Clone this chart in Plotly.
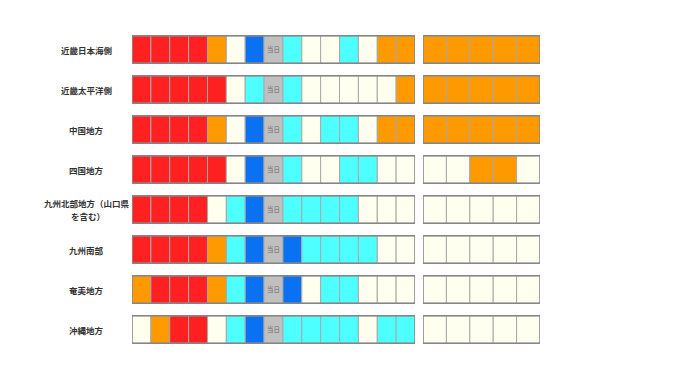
import plotly.graph_objects as go

regions = ["近畿日本海側", "近畿太平洋側", "中国地方", "四国地方",
           "九州北部地方（山口県<br>を含む）", "九州南部", "奄美地方", "沖縄地方"]

# cell codes: R=red, O=orange, W=ivory, C=cyan, B=blue, G=当日 (gray)
block1 = [
    "RRRROWBGCWWCWOO",
    "RRRRRWCGCWWWWWO",
    "RRRROWBGCWCCWOO",
    "RRRRRWBGCWWCCWW",
    "RRRRWCBGCCCCWWW",
    "RRRROCBGBCCCCWW",
    "ORRROCBGBWCCWWW",
    "WORRWCBGCCCCWCC",
]
block2 = [
    "OOOOO",
    "OOOOO",
    "OOOOO",
    "WWOOW",
    "WWWWW",
    "WWWWW",
    "WWWWW",
    "WWWWW",
]
today_label = "当日"

palette = {"R": "#ff2121", "O": "#ff9900", "W": "#fffff0",
           "C": "#4dffff", "B": "#0a72f2", "G": "#c0c0c0"}

OFF = 8  # page body margin in the browser
W, H = 680, 382

fig = go.Figure()

def add_block(rows, xaxis, with_text):
    ys, bases, colors, texts = [], [], [], []
    for r, row in enumerate(rows):
        for c, code in enumerate(row):
            ys.append(r)
            bases.append(c)
            colors.append(palette[code])
            texts.append(today_label if (with_text and code == "G") else "")
    fig.add_trace(go.Bar(
        orientation="h", y=ys, x=[1] * len(ys), base=bases,
        width=0.6875, xaxis=xaxis, yaxis="y",
        marker=dict(color=colors, line=dict(color="#a8a8a8", width=1)),
        text=texts, textposition="inside", insidetextanchor="middle",
        textangle=0, textfont=dict(size=7, color="#6e6e6e", family="Noto Sans CJK JP"),
        hoverinfo="skip", showlegend=False,
    ))
    n = len(rows[0])
    fig.add_trace(go.Bar(
        orientation="h", y=list(range(len(rows))), x=[n] * len(rows), base=[0] * len(rows),
        width=0.6875, xaxis=xaxis, yaxis="y",
        marker=dict(color="rgba(0,0,0,0)", line=dict(color="#858585", width=1.3)),
        hoverinfo="skip", showlegend=False,
    ))

add_block(block1, "x", True)
add_block(block2, "x2", False)

LINE = 12.7
for r, name in enumerate(regions):
    lines = name.split("<br>")
    for i, line in enumerate(lines):
        shift = ((len(lines) - 1) / 2 - i) * LINE
        if i == 0:
            kw = dict(x=(86.5 - OFF) / W, xanchor="center")
        else:
            kw = dict(x=(69 - OFF) / W, xanchor="left")
        fig.add_annotation(xref="paper", y=r, yref="y", text=line,
                           showarrow=False, yanchor="middle", yshift=shift,
                           font=dict(size=8.5, color="#333333", family="Noto Sans CJK JP",
                                     weight="bold"), **kw)

y0 = 49.5 - OFF
fig.update_layout(
    width=W, height=H,
    margin=dict(l=0, r=0, t=0, b=0),
    paper_bgcolor="white", plot_bgcolor="white",
    barmode="overlay",
    uniformtext=dict(minsize=7, mode="show"),
    xaxis=dict(domain=[(132 - OFF) / W, (415 - OFF) / W], range=[0, 15], visible=False, fixedrange=True),
    xaxis2=dict(domain=[(423 - OFF) / W, (540 - OFF) / W], range=[0, 5], visible=False,
                fixedrange=True, anchor="y"),
    yaxis=dict(range=[(H - y0) / 40, -y0 / 40], visible=False, fixedrange=True),
)

fig.write_html("out.html")
